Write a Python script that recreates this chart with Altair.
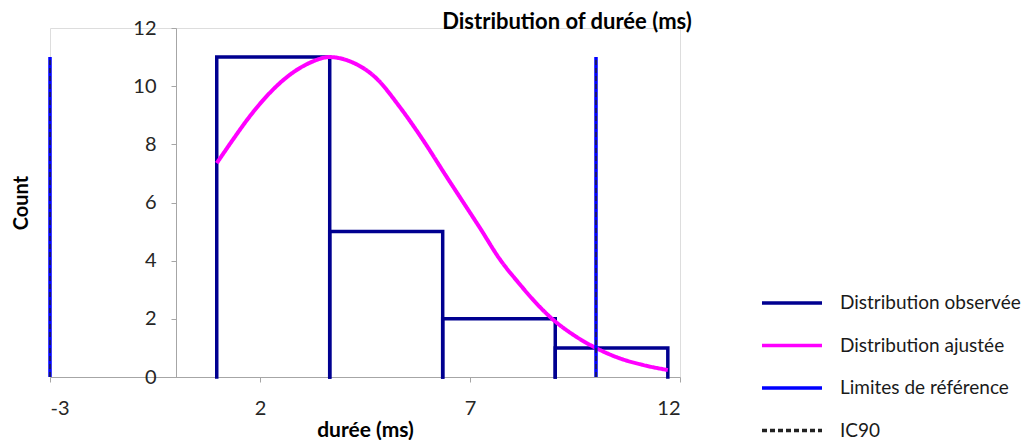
import altair as alt
import pandas as pd

# ---- data ----
bin_edges = [0.97, 3.66, 6.35, 9.03, 11.71]
counts = [11, 5, 2, 1]

fit_x = [0.97, 1.35, 1.75, 2.22, 2.70, 3.18, 3.65, 4.13, 4.77, 5.32, 5.88, 6.44,
         6.91, 7.23, 7.71, 8.19, 8.50, 8.98, 9.46, 10.01, 10.57, 11.13, 11.71]
fit_y = [7.35, 8.15, 8.95, 9.75, 10.38, 10.80, 11.0, 10.86, 10.27, 9.30, 8.15, 6.89,
         5.85, 5.14, 4.05, 3.18, 2.66, 1.97, 1.45, 0.99, 0.64, 0.41, 0.24]

ref_limits = [-3, 10]
ic90_limits = [-3, 10]
limit_top = 11

series = ["Distribution observée", "Distribution ajustée", "Limites de référence", "IC90"]
colors = ["#000090", "#FF00FF", "#0000FF", "#222222"]
dashes = [[1, 0], [1, 0], [1, 0], [5, 3]]

x_ticks = [-3, 2, 7, 12]
y_ticks = [0, 2, 4, 6, 8, 10, 12]

FONT = "Lato"
W, H = 630, 349
px_per_unit = W / 15.0

# ---- tables ----
hist_rows = []
for i, c in enumerate(counts):
    e0, e1 = bin_edges[i], bin_edges[i + 1]
    for k, (xx, yy) in enumerate([(e0, 0), (e0, c), (e1, c), (e1, 0)]):
        hist_rows.append({"x": xx, "y": yy, "bin": i, "ord": k, "series": series[0]})
hist_df = pd.DataFrame(hist_rows)

fit_df = pd.DataFrame({"x": fit_x, "y": fit_y, "series": series[1]})

lim_df = pd.DataFrame([{"x": v, "y": 0, "y2": limit_top, "series": series[2]} for v in ref_limits])
ic_df = pd.DataFrame([{"x": v, "y": 0, "y2": limit_top, "series": series[3]} for v in ic90_limits])

color_scale = alt.Scale(domain=series, range=colors)
dash_scale = alt.Scale(domain=series, range=dashes)

legend = alt.Legend(
    title=None, orient="none", legendX=710, legendY=263,
    symbolType="stroke", symbolSize=3600, symbolStrokeWidth=3.5,
    labelFont=FONT, labelFontSize=19, labelColor="#1a1a1a", labelOffset=16,
    labelLimit=0, rowPadding=18.5, clipHeight=24, padding=0, values=series,
)

xs = alt.Scale(domain=[-3, 12], nice=False, zero=False)
ys = alt.Scale(domain=[0, 12], nice=False)

x_axis = alt.Axis(
    values=x_ticks, grid=False, title="durée (ms)", domainColor="#A6A6A6",
    tickColor="#A6A6A6", tickSize=5, labelFont=FONT, labelFontSize=20,
    labelColor="#262626", labelPadding=16, labelExpr="'' + datum.value",
    titleFont=FONT, titleFontSize=21,
    titleFontWeight="bold", titleColor="#000000", titlePadding=1,
)
y_axis = alt.Axis(
    values=y_ticks, grid=False, title="Count", domainColor="#A6A6A6",
    tickColor="#A6A6A6", tickSize=5, labelFont=FONT, labelFontSize=20,
    labelColor="#262626", labelPadding=15, offset=-3 * px_per_unit,
    titleFont=FONT, titleFontSize=20, titleFontWeight="bold", titleColor="#000000",
    titleX=-155, titleY=H / 2, titleAngle=-90, titleAlign="center",
    titleBaseline="middle",
)

base_color = alt.Color("series:N", scale=color_scale, legend=legend)
base_dash = alt.StrokeDash("series:N", scale=dash_scale, legend=legend)

hist = alt.Chart(hist_df).mark_line(strokeWidth=3.5, strokeJoin="miter", strokeCap="square").encode(
    x=alt.X("x:Q", scale=xs, axis=x_axis),
    y=alt.Y("y:Q", scale=ys, axis=y_axis),
    detail="bin:N",
    order="ord:Q",
    color=base_color,
    strokeDash=base_dash,
)

fit = alt.Chart(fit_df).mark_line(strokeWidth=4, interpolate="monotone").encode(
    x="x:Q", y="y:Q", color=base_color, strokeDash=base_dash,
)

lim = alt.Chart(lim_df).mark_rule(strokeWidth=3.5).encode(
    x="x:Q", y="y:Q", y2="y2:Q", color=base_color, strokeDash=base_dash,
)

ic = alt.Chart(ic_df).mark_rule(strokeWidth=1.3).encode(
    x="x:Q", y="y:Q", y2="y2:Q", color=base_color, strokeDash=base_dash,
)

chart = alt.layer(hist, fit, lim, ic).properties(
    width=W, height=H,
    title=alt.TitleParams(
        "Distribution of durée (ms)", font=FONT, fontSize=22, fontWeight="bold",
        color="#000000", anchor="middle", frame="group", dx=202, dy=28, offset=2,
        baseline="middle",
    ),
    padding={"left": 42, "top": 20, "right": 347, "bottom": 63},
    autosize="none",
).configure_view(stroke=None).configure(background="white")

chart.save("out.html", embed_options={"renderer": "svg", "actions": False})
